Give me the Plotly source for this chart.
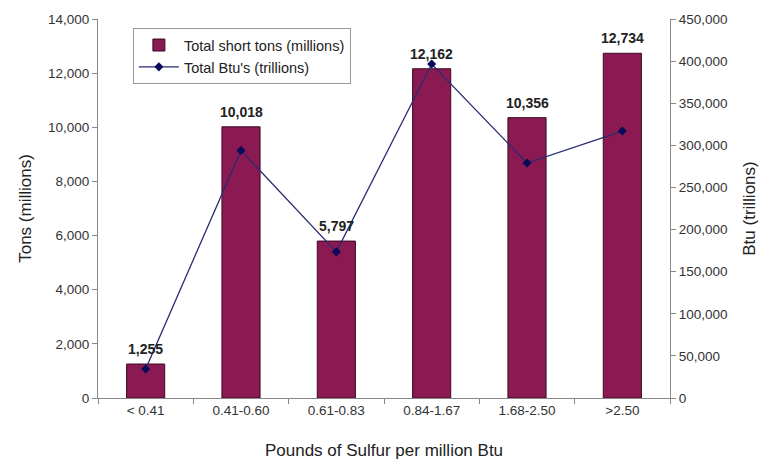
import plotly.graph_objects as go

categories = ["< 0.41", "0.41-0.60", "0.61-0.83", "0.84-1.67", "1.68-2.50", ">2.50"]
tons = [1255, 10018, 5797, 12162, 10356, 12734]
btu = [34500, 294000, 173500, 396500, 279000, 317000]

FONT = "Liberation Sans, Arial, sans-serif"

fig = go.Figure()
fig.add_trace(go.Bar(
    x=categories, y=tons, name="Total short tons (millions)",
    marker=dict(color="#8B1A52", line=dict(color="#3a0a20", width=1)),
))
fig.add_trace(go.Scatter(
    x=categories, y=btu, name="Total Btu's (trillions)", yaxis="y2",
    mode="lines+markers",
    line=dict(color="#2a2a72", width=1.3),
    marker=dict(symbol="diamond", size=7, color="#0a0a5a"),
))

for c, v in zip(categories, tons):
    fig.add_annotation(x=c, y=v, xref="x", yref="y", text=f"<b>{v:,}</b>",
                       showarrow=False, yanchor="bottom", yshift=5,
                       font=dict(family=FONT, size=14, color="#222"))

fig.update_layout(
    width=769, height=461,
    margin=dict(l=98, r=99, t=19, b=63),
    paper_bgcolor="white", plot_bgcolor="white",
    font=dict(family=FONT, size=13, color="#333"),
    bargap=0.6,
    showlegend=True,
    legend=dict(x=0.061, y=0.976, xanchor="left", yanchor="top",
                bgcolor="white", bordercolor="#999", borderwidth=1,
                font=dict(family=FONT, size=14.5, color="#222"),
                tracegroupgap=4, itemwidth=40),
    xaxis=dict(
        automargin=False,
        showline=True, linecolor="#888", linewidth=1,
        ticks="outside", ticklen=5, tickcolor="#888", tickson="boundaries",
        tickfont=dict(family=FONT, size=13.5, color="#333"),
        title=dict(text="Pounds of Sulfur per million Btu",
                   font=dict(family=FONT, size=17, color="#222"), standoff=26),
        showgrid=False,
    ),
    yaxis=dict(
        automargin=False,
        range=[0, 14000], dtick=2000, tickformat=",",
        showline=True, linecolor="#888", linewidth=1,
        ticks="outside", ticklen=5, tickcolor="#888",
        tickfont=dict(family=FONT, size=13.5, color="#333"),
        title=dict(text="Tons (millions)", font=dict(family=FONT, size=17, color="#222"), standoff=12),
        showgrid=False, zeroline=False,
    ),
    yaxis2=dict(
        automargin=False,
        range=[0, 450000], dtick=50000, tickformat=",",
        overlaying="y", side="right",
        showline=True, linecolor="#888", linewidth=1,
        ticks="outside", ticklen=5, tickcolor="#888",
        tickfont=dict(family=FONT, size=13.5, color="#333"),
        title=dict(text="Btu (trillions)", font=dict(family=FONT, size=17, color="#222"), standoff=16),
        showgrid=False, zeroline=False,
    ),
)

fig.write_html("out.html")
